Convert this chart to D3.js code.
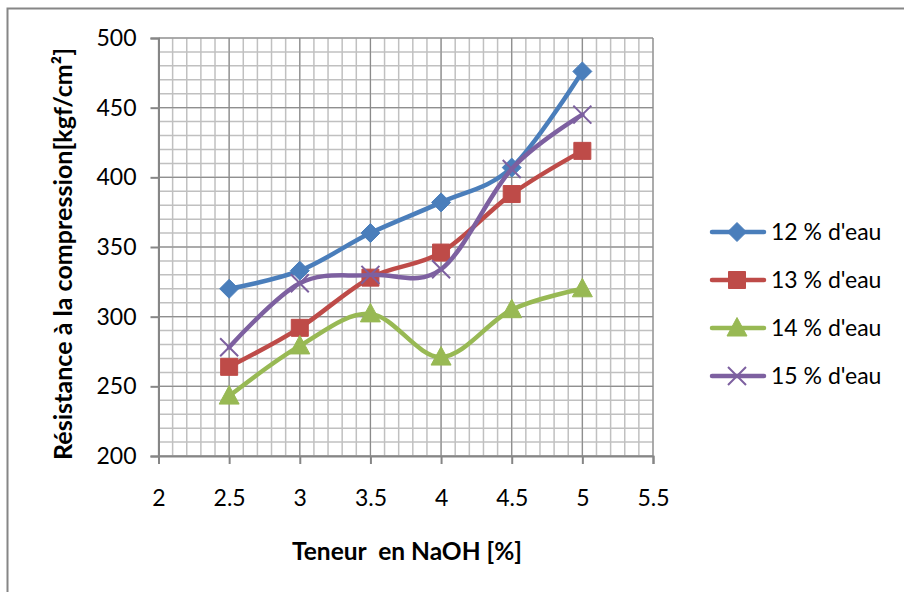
<!DOCTYPE html>
<html>
<head>
    <meta charset="utf-8">
    <title>Résistance à la compression</title>
    <script src="https://d3js.org/d3.v7.min.js"></script>
    <style>
        body { margin: 0; background: #fff; }
        text { font-family: Lato, "Open Sans", sans-serif; fill: #000; }
        .minor { stroke: #c0c0c0; stroke-width: 1.5px; }
        .major { stroke: #868686; stroke-width: 1px; }
        .serie { fill: none; stroke-width: 4.5px; stroke-linecap: round; stroke-linejoin: round; }
    </style>
</head>
<body>
<svg width="904" height="592"></svg>
<script>
    // données
    var teneurNaOH = [2.5, 3, 3.5, 4, 4.5, 5];
    var eau12 = [320, 333, 360, 382, 407, 476];
    var eau13 = [264, 292, 328, 346, 388, 419];
    var eau14 = [243, 279, 302, 271, 305, 320];
    var eau15 = [278, 324, 330, 334, 406, 445];

    var seriesNames = ["12 % d'eau", "13 % d'eau", "14 % d'eau", "15 % d'eau"];
    var seriesColors = ["#4a7ebb", "#be4b48", "#98b954", "#7d60a0"];
    var seriesMarkers = ["diamond", "square", "triangle", "cross"];

    var xTicks = [2, 2.5, 3, 3.5, 4, 4.5, 5, 5.5];
    var yTicks = [200, 250, 300, 350, 400, 450, 500];

    var svg = d3.select("svg");

    // cadre du graphique (coupé à droite et en bas)
    svg.append("rect")
        .attr("x", 7.5).attr("y", 8.5)
        .attr("width", 1000).attr("height", 1000)
        .attr("fill", "none")
        .attr("stroke", "#868686")
        .attr("stroke-width", 2);

    var x = d3.scaleLinear().domain([2, 5.5]).range([158.5, 653]);
    var y = d3.scaleLinear().domain([200, 500]).range([456, 38]);

    var grid = svg.append("g");

    // quadrillage secondaire
    grid.selectAll(".vminor")
        .data(x.ticks(35))
        .enter().append("line")
        .attr("class", "minor")
        .attr("x1", function (d) { return x(d); })
        .attr("x2", function (d) { return x(d); })
        .attr("y1", y(200)).attr("y2", y(500));

    grid.selectAll(".hminor")
        .data(y.ticks(30))
        .enter().append("line")
        .attr("class", "minor")
        .attr("x1", x(2)).attr("x2", x(5.5))
        .attr("y1", function (d) { return y(d); })
        .attr("y2", function (d) { return y(d); });

    // quadrillage principal
    grid.selectAll(".vmajor")
        .data(xTicks)
        .enter().append("line")
        .attr("class", "major")
        .attr("x1", function (d) { return x(d); })
        .attr("x2", function (d) { return x(d); })
        .attr("y1", y(200)).attr("y2", y(500));

    grid.selectAll(".hmajor")
        .data(yTicks)
        .enter().append("line")
        .attr("class", "major")
        .attr("x1", x(2)).attr("x2", x(5.5))
        .attr("y1", function (d) { return y(d); })
        .attr("y2", function (d) { return y(d); });

    // axes
    var yAxis = svg.append("g")
        .attr("transform", "translate(" + x(2) + ",0)")
        .call(d3.axisLeft(y).tickValues(yTicks).tickSize(8).tickPadding(14).tickFormat(d3.format("d")));

    var xAxis = svg.append("g")
        .attr("transform", "translate(0," + y(200) + ")")
        .call(d3.axisBottom(x).tickValues(xTicks).tickSize(8).tickPadding(26).tickFormat(function (d) { return String(d); }));

    [yAxis, xAxis].forEach(function (a) {
        a.select(".domain").attr("stroke", "#868686").attr("stroke-width", 2);
        a.selectAll(".tick line").attr("stroke", "#868686").attr("stroke-width", 2);
        a.selectAll(".tick text")
            .attr("fill", "#000")
            .style("font-family", "Lato, 'Open Sans', sans-serif")
            .style("font-size", "23px");
    });

    // titres des axes
    svg.append("text")
        .attr("transform", "translate(72,254) rotate(-90)")
        .attr("text-anchor", "middle")
        .attr("textLength", 412)
        .attr("lengthAdjust", "spacingAndGlyphs")
        .style("font-weight", "bold")
        .style("font-size", "24px")
        .text("Résistance à la compression[kgf/cm²]");

    svg.append("text")
        .attr("x", 407).attr("y", 560)
        .attr("text-anchor", "middle")
        .attr("textLength", 230)
        .attr("lengthAdjust", "spacingAndGlyphs")
        .style("font-weight", "bold")
        .style("font-size", "24px")
        .attr("xml:space", "preserve")
        .text("Teneur  en NaOH [%]");

    // formes des marqueurs
    function markerPath(type) {
        if (type === "diamond") return "M0,-9.5L9.5,0L0,9.5L-9.5,0Z";
        if (type === "square") return "M-8.5,-8.5H8.5V8.5H-8.5Z";
        if (type === "triangle") return "M0,-10.5L10,8L-10,8Z";
        return "M-9,-9L9,9M-9,9L9,-9";
    }

    function drawMarker(g, type, color) {
        var p = g.append("path").attr("d", markerPath(type));
        if (type === "cross") {
            p.attr("fill", "none").attr("stroke", color).attr("stroke-width", 2);
        } else {
            p.attr("fill", color).attr("stroke", color).attr("stroke-width", 1);
        }
    }

    var allSeries = [eau12, eau13, eau14, eau15];

    var line = d3.line()
        .x(function (d, i) { return x(teneurNaOH[i]); })
        .y(function (d) { return y(d); })
        .curve(d3.curveCardinal.tension(0));

    allSeries.forEach(function (vals, s) {
        var g = svg.append("g");
        g.append("path")
            .attr("class", "serie")
            .attr("stroke", seriesColors[s])
            .attr("d", line(vals));
        vals.forEach(function (v, i) {
            var m = g.append("g")
                .attr("transform", "translate(" + x(teneurNaOH[i]) + "," + y(v) + ")");
            drawMarker(m, seriesMarkers[s], seriesColors[s]);
        });
    });

    // légende
    var legend = svg.append("g");
    seriesNames.forEach(function (name, s) {
        var cy = 232 + s * 48;
        var row = legend.append("g").attr("transform", "translate(0," + cy + ")");
        row.append("line")
            .attr("x1", 712).attr("x2", 764)
            .attr("y1", 0).attr("y2", 0)
            .attr("stroke", seriesColors[s])
            .attr("stroke-width", 4.5)
            .attr("stroke-linecap", "round");
        var m = row.append("g").attr("transform", "translate(737,0)");
        drawMarker(m, seriesMarkers[s], seriesColors[s]);
        row.append("text")
            .attr("x", 771).attr("y", 8)
            .style("font-size", "23px")
            .text(name);
    });
</script>
</body>
</html>
